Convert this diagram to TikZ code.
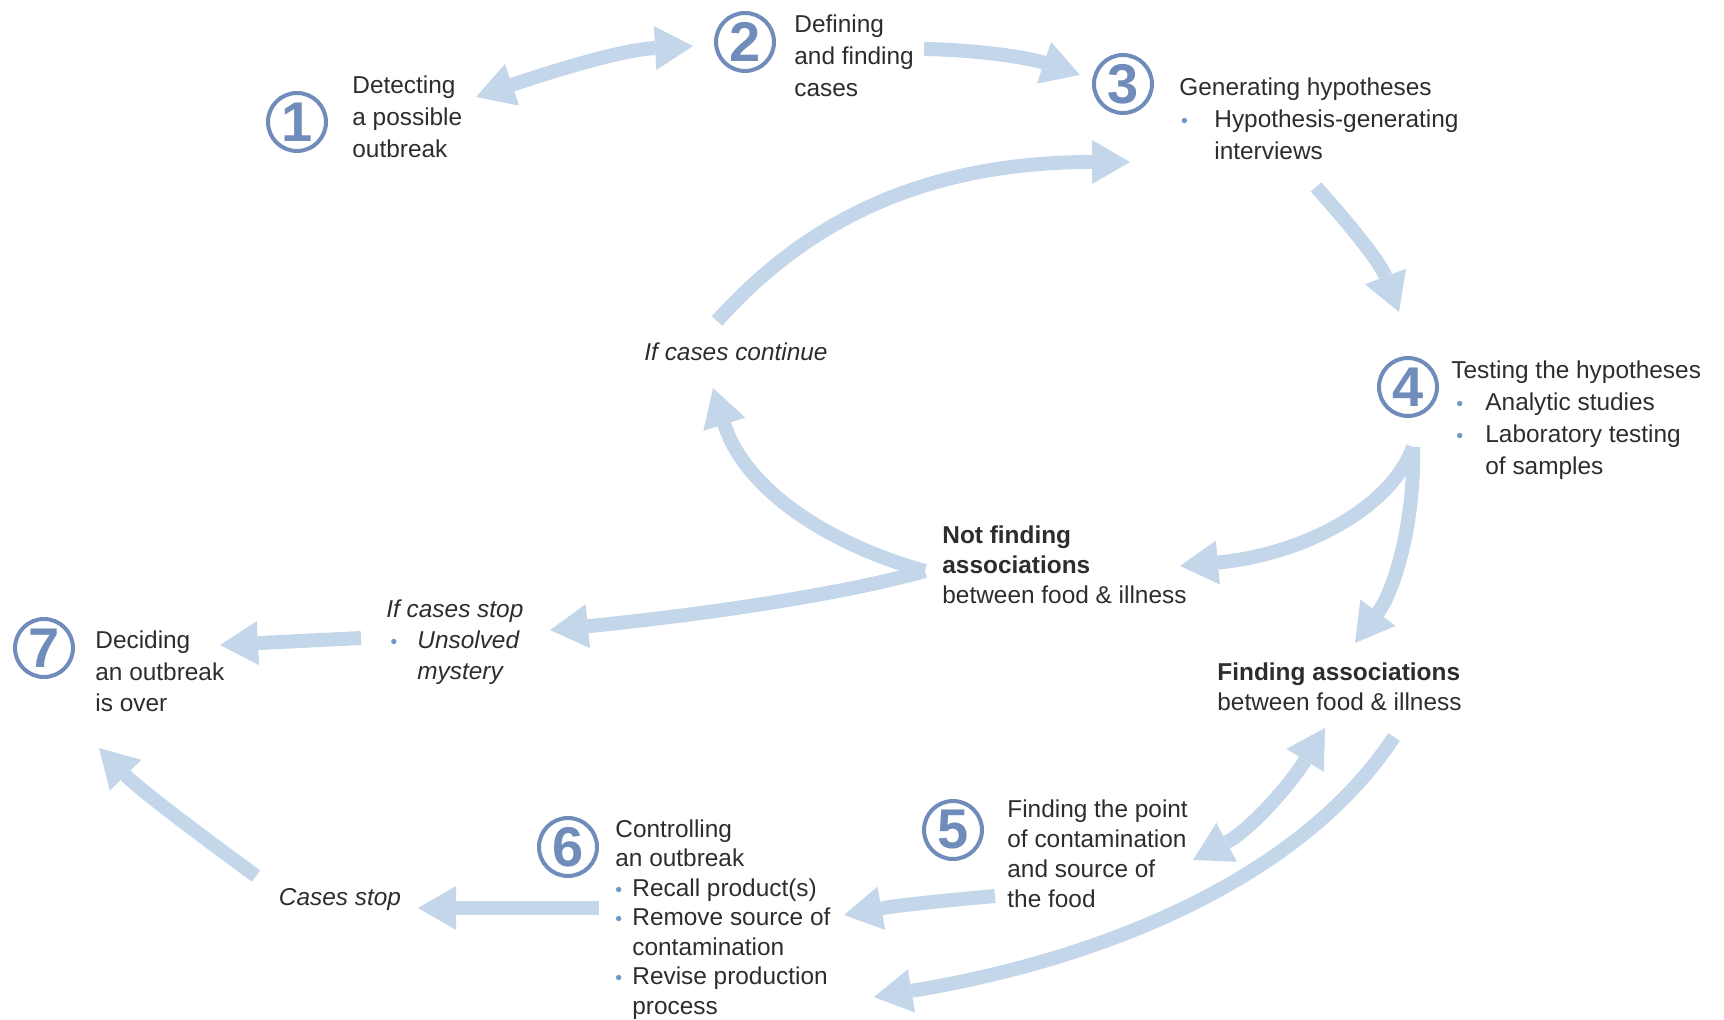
\documentclass[tikz,border=0pt]{standalone}
\usepackage{fontspec}
\setmainfont{Liberation Sans}
\usepackage{graphicx}
\usetikzlibrary{arrows.meta}
\definecolor{arrc}{RGB}{196,214,234}
\definecolor{numc}{RGB}{112,140,186}
\definecolor{txtc}{RGB}{45,45,45}
\definecolor{bulc}{RGB}{110,150,200}
\newcommand{\mybul}{\textcolor{bulc}{\scalebox{0.8}{\textbullet}}}
\begin{document}
\begin{tikzpicture}[x=0.5pt,y=-0.5pt,
  tipA/.tip={Triangle[length=19pt,width=22pt,line width=0pt]},
  flow/.style={draw=arrc, line width=7pt, -tipA},
  flowtwo/.style={draw=arrc, line width=7pt, tipA-tipA},
  numcirc/.style={circle, draw=numc, line width=2pt, minimum size=29pt, inner sep=0pt, text=numc, font=\fontsize{28}{28}\selectfont\bfseries},
  txt/.style={anchor=base west, align=left, inner sep=0pt, text=txtc, font=\fontsize{12.2}{16}\selectfont},
  txtb/.style={txt, font=\fontsize{12.2}{15}\selectfont},
  txtc/.style={txt, font=\fontsize{12.2}{14.75}\selectfont},
  txti/.style={txt, font=\fontsize{12.2}{15.5}\selectfont\itshape}]
\useasboundingbox (0,0) rectangle (1724,1020);

% ---------- arrow end points ----------
\coordinate (a1s) at (476,97);   \coordinate (a1e) at (693,46);
\coordinate (a2s) at (924,49);   \coordinate (a2e) at (1080,75);
\coordinate (a3s) at (1316,187); \coordinate (a3e) at (1399,312);
\coordinate (a4s) at (717,321);  \coordinate (a4e) at (1130,162);
\coordinate (j4)  at (1413,447);
\coordinate (a5e) at (1180,566);
\coordinate (a6e) at (1355,643);
\coordinate (jn)  at (925,571);
\coordinate (a7e) at (713,388);
\coordinate (a8e) at (550,630);
\coordinate (a9s) at (361,638);  \coordinate (a9e) at (220,645);
\coordinate (a10s) at (1325,728); \coordinate (a10e) at (1193,860);
\coordinate (a11s) at (1394,737); \coordinate (a11e) at (874,997);
\coordinate (a12s) at (995,896);  \coordinate (a12e) at (844,915);
\coordinate (a13s) at (599,908);  \coordinate (a13e) at (418,908);
\coordinate (a14s) at (256,876);  \coordinate (a14e) at (99,748);

% ---------- arrows ----------
\draw[flowtwo] (a1s) .. controls (550,72) and (620,50) .. (a1e);
\draw[flow] (a2s) .. controls (980,50) and (1030,58) .. (a2e);
\draw[flow] (a3s) .. controls (1350,225) and (1380,262) .. (a3e);
\draw[flow] (a4s) .. controls (790,240) and (900,162) .. (a4e);
\draw[flow] (j4) .. controls (1390,510) and (1300,555) .. (a5e);
\draw[flow] (j4) .. controls (1415,520) and (1395,590) .. (a6e);
\draw[flow] (jn) .. controls (830,545) and (745,490) .. (a7e);
\draw[flow] (jn) .. controls (840,595) and (700,615) .. (a8e);
\draw[flow] (a9s) -- (a9e);
\draw[flowtwo] (a10s) .. controls (1290,785) and (1250,830) .. (a10e);
\draw[flow] (a11s) .. controls (1300,880) and (1100,960) .. (a11e);
\draw[flow] (a12s) .. controls (950,900) and (900,905) .. (a12e);
\draw[flow] (a13s) -- (a13e);
\draw[flow] (a14s) .. controls (200,835) and (140,790) .. (a14e);

% ---------- numbered circles ----------
\node[numcirc] (n1) at (297,122) {1};
\node[numcirc] (n2) at (745,42) {2};
\node[numcirc] (n3) at (1123,84) {3};
\node[numcirc] (n4) at (1408,387) {4};
\node[numcirc] (n5) at (953,830) {5};
\node[numcirc] (n6) at (568,847) {6};
\node[numcirc] (n7) at (44,648) {7};

% ---------- texts (anchored at the baseline of their last line) ----------
\node[txt] (t1) at (352,158) {Detecting\\a possible\\outbreak};
\node[txt] (t2) at (794,97) {Defining\\and finding\\cases};
\node[txt] (t3) at (1179,160) {Generating hypotheses\\\makebox[17.5pt][l]{\hspace{0.8pt}\mybul}Hypothesis-generating\\\hspace*{17.5pt}interviews};
\node[txt] (t4) at (1451,475) {Testing the hypotheses\\\makebox[17pt][l]{\hspace{2.5pt}\mybul}Analytic studies\\\makebox[17pt][l]{\hspace{2.5pt}\mybul}Laboratory testing\\\hspace*{17pt}of samples};
\node[txtb] (t5) at (1007,907) {Finding the point\\of contamination\\and source of\\the food};
\node[txtc] (t6) at (615,1014) {Controlling\\an outbreak\\\makebox[8.5pt][l]{\mybul}Recall product(s)\\\makebox[8.5pt][l]{\mybul}Remove source of\\\hspace*{8.5pt}contamination\\\makebox[8.5pt][l]{\mybul}Revise production\\\hspace*{8.5pt}process};
\node[txt] (t7) at (95,712) {Deciding\\an outbreak\\is over};
\node[txti, anchor=base] (tcont) at (736,361) {If cases continue};
\node[txtb] (tnot) at (942,604) {\textbf{Not finding}\\\textbf{associations}\\between food \& illness};
\node[txtb] (tfind) at (1217,711) {\textbf{Finding associations}\\between food \& illness};
\node[txti] (tstop) at (386,680) {If cases stop\\\makebox[15.5pt][l]{\hspace{2pt}\mybul}Unsolved\\\hspace*{15.5pt}mystery};
\node[txti, anchor=base] (tcstop) at (340,905) {Cases stop};
\end{tikzpicture}
\end{document}
